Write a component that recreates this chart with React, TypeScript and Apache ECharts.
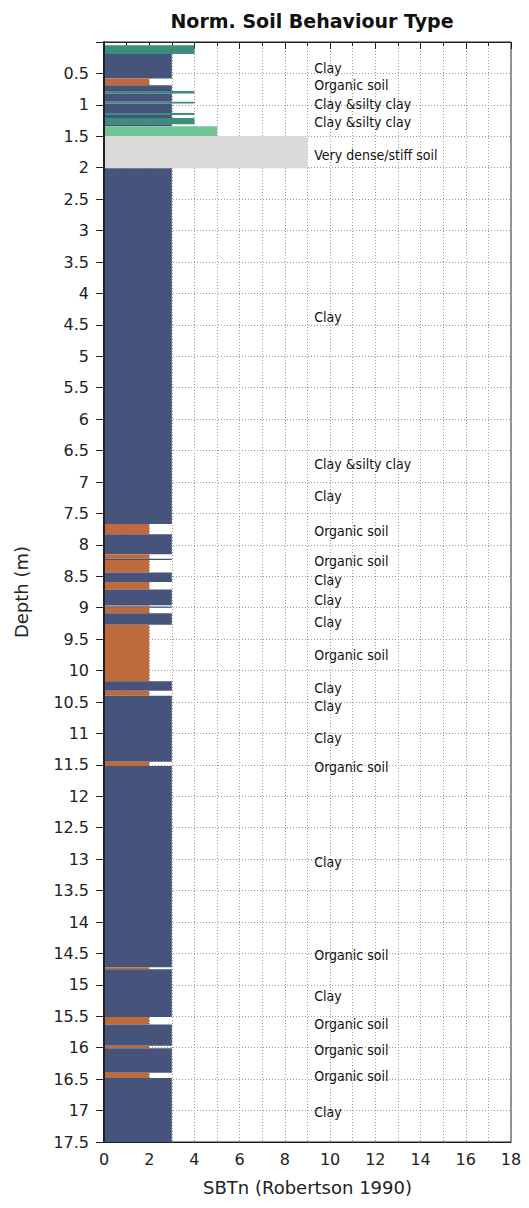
import React, { useEffect, useRef } from "react";
import * as echarts from "echarts";

// Layer tops / bottoms (m) and the SBTn zone of each layer
const layerTop = [
  0.05, 0.19, 0.58, 0.69, 0.78, 0.82, 0.95, 0.98, 1.13, 1.16, 1.21, 1.31, 1.34, 1.5,
  2.01, 7.67, 7.83, 8.15, 8.22, 8.24, 8.44, 8.59, 8.71, 8.96, 8.98, 9.0, 9.09, 9.27,
  10.17, 10.32, 10.4, 11.45, 11.52, 14.72, 14.75, 15.51, 15.63, 15.97, 16.01, 16.4, 16.48,
];
const layerBottom = [
  0.19, 0.58, 0.69, 0.78, 0.82, 0.95, 0.98, 1.13, 1.16, 1.21, 1.31, 1.34, 1.5, 2.01,
  7.67, 7.83, 8.15, 8.22, 8.24, 8.44, 8.59, 8.71, 8.96, 8.98, 9.0, 9.09, 9.27, 10.17,
  10.32, 10.4, 11.45, 11.52, 14.72, 14.75, 15.51, 15.63, 15.97, 16.01, 16.4, 16.48, 17.5,
];
const layerSbt = [
  4, 3, 2, 3, 4, 3, 4, 3, 4, 3, 4, 3, 5, 9,
  3, 2, 3, 2, 3, 2, 3, 2, 3, 2, 3, 2, 3, 2,
  3, 2, 3, 2, 3, 2, 3, 2, 3, 2, 3, 2, 3,
];

const zoneColors: Record<number, string> = {
  2: "#BE6A3D",
  3: "#46537A",
  4: "#3B8E7A",
  5: "#6FC498",
  9: "#DADADA",
};

// Soil description labels
const labelDepth = [
  0.41, 0.68, 0.98, 1.27, 1.8, 4.37, 6.72, 7.22, 7.78, 8.25, 8.56, 8.87, 9.23, 9.75,
  10.28, 10.57, 11.08, 11.53, 13.04, 14.52, 15.17, 15.63, 16.03, 16.45, 17.03,
];
const labelText = [
  "Clay", "Organic soil", "Clay &silty clay", "Clay &silty clay", "Very dense/stiff soil",
  "Clay", "Clay &silty clay", "Clay", "Organic soil", "Organic soil", "Clay", "Clay", "Clay",
  "Organic soil", "Clay", "Clay", "Clay", "Organic soil", "Clay", "Organic soil", "Clay",
  "Organic soil", "Organic soil", "Organic soil", "Clay",
];
const labelX = 9.3;

const xMin = 0;
const xMax = 18;
const xInterval = 2;
const yMin = 0;
const yMax = 17.5;
const yInterval = 0.5;

const FONT = "'DejaVu Sans', Verdana, sans-serif";
const LABEL_FONT = "'Liberation Sans Narrow', 'DejaVu Sans Condensed', 'Arial Narrow', sans-serif";

export default function App() {
  const ref = useRef<HTMLDivElement>(null);
  useEffect(() => {
    document.body.style.margin = "0";
    const chart = echarts.init(ref.current!, null, { renderer: "svg" });
    const layerData = layerTop.map((t, i) => [layerSbt[i], t, layerBottom[i]]);
    const labelData = labelDepth.map((d) => [labelX, d]);
    const dotted = { color: "#9a9a9a", width: 1, type: [1, 2] as number[] };
    chart.setOption({
      animation: false,
      backgroundColor: "#ffffff",
      title: {
        text: "Norm. Soil Behaviour Type",
        left: 307,
        top: 6,
        textAlign: "center",
        textStyle: { fontFamily: FONT, fontWeight: "bold", fontSize: 19, color: "#111" },
      },
      grid: {
        left: 104,
        right: 18,
        top: 42,
        bottom: 66,
        show: true,
        borderColor: "#222",
        borderWidth: 1,
        backgroundColor: "transparent",
      },
      xAxis: [
        {
          type: "value",
          min: xMin,
          max: xMax,
          interval: xInterval,
          name: "SBTn (Robertson 1990)",
          nameLocation: "middle",
          nameGap: 36,
          nameTextStyle: { fontFamily: FONT, fontSize: 18, color: "#222" },
          axisLine: { show: true, lineStyle: { color: "#222", width: 1 } },
          axisTick: { show: true, length: 7, lineStyle: { color: "#222" } },
          minorTick: { show: true, splitNumber: 2, length: 4, lineStyle: { color: "#222" } },
          axisLabel: { fontFamily: FONT, fontSize: 16, color: "#222", margin: 9 },
          splitLine: { show: true, lineStyle: dotted },
          minorSplitLine: { show: true, lineStyle: dotted },
          z: 0,
        },
        {
          type: "value",
          min: xMin,
          max: xMax,
          position: "bottom",
          axisLine: { show: true, onZero: false, lineStyle: { color: "#222", width: 1 } },
          axisTick: { show: false },
          axisLabel: { show: false },
          splitLine: { show: false },
          z: 10,
        },
      ],
      yAxis: [
        {
          type: "value",
          inverse: true,
          min: yMin,
          max: yMax,
          interval: yInterval,
          name: "Depth (m)",
          nameLocation: "middle",
          nameGap: 74,
          nameRotate: 90,
          nameTextStyle: { fontFamily: FONT, fontSize: 18, color: "#222" },
          axisLine: { show: true, onZero: false, lineStyle: { color: "#222", width: 1 } },
          axisTick: { show: true, length: 8, lineStyle: { color: "#222" } },
          axisLabel: {
            fontFamily: FONT,
            fontSize: 16,
            color: "#222",
            margin: 15,
            formatter: (v: number) => (v === 0 ? "" : String(v)),
          },
          splitLine: { show: true, lineStyle: dotted },
          z: 0,
        },
        {
          type: "value",
          inverse: true,
          min: yMin,
          max: yMax,
          position: "left",
          axisLine: { show: true, onZero: false, lineStyle: { color: "#222", width: 2 } },
          axisTick: { show: false },
          axisLabel: { show: false },
          splitLine: { show: false },
          z: 10,
        },
      ],
      series: [
        {
          type: "custom",
          data: layerData,
          encode: { x: 0, y: [1, 2] },
          clip: true,
          z: 2,
          renderItem: (_params: any, api: any) => {
            const zone = api.value(0);
            const top = api.value(1);
            const bottom = api.value(2);
            const p0 = api.coord([0, top]);
            const p1 = api.coord([zone, bottom]);
            return {
              type: "rect",
              shape: { x: p0[0], y: p0[1], width: p1[0] - p0[0], height: p1[1] - p0[1] },
              style: { fill: zoneColors[zone] },
            };
          },
        },
        {
          type: "custom",
          data: labelData,
          encode: { x: 0, y: 1 },
          z: 3,
          renderItem: (params: any, api: any) => {
            const p = api.coord([api.value(0), api.value(1)]);
            return {
              type: "text",
              x: p[0],
              y: p[1],
              style: {
                text: labelText[params.dataIndex],
                fontFamily: LABEL_FONT,
                fontSize: 14,
                fill: "#111",
                textAlign: "left",
                textVerticalAlign: "middle",
              },
            };
          },
        },
      ],
    });
    return () => chart.dispose();
  }, []);
  return <div ref={ref} style={{ width: 529, height: 1208 }} />;
}
